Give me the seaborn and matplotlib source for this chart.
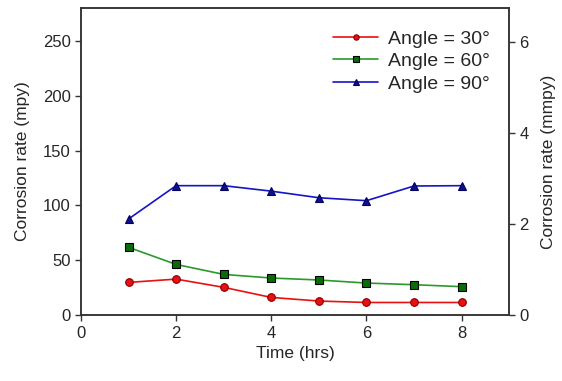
import numpy as np
import pandas as pd
import matplotlib
matplotlib.use("Agg")
import matplotlib.pyplot as plt
import seaborn as sns

# Measured corrosion rate (mpy) versus exposure time for three impingement angles
time_hrs = [1, 2, 3, 4, 5, 6, 7, 8]
rate_30 = [29.8, 32.8, 25.3, 16.1, 12.8, 11.5, 11.5, 11.5]
rate_60 = [61.8, 46.2, 37.1, 33.8, 32.0, 29.2, 27.7, 25.9]
rate_90 = [87.6, 118.0, 118.0, 113.0, 107.0, 104.3, 117.7, 118.0]
series_labels = ["Angle = 30°", "Angle = 60°", "Angle = 90°"]

df = pd.concat([
    pd.DataFrame({"Time": time_hrs, "Rate": vals, "Series": lab})
    for vals, lab in zip([rate_30, rate_60, rate_90], series_labels)
], ignore_index=True)

sns.set_theme(style="ticks")
plt.rcParams["font.family"] = ["Liberation Sans", "DejaVu Sans"]

fig = plt.figure(figsize=(5.62, 3.81), dpi=100)
ax = fig.add_axes([0.144, 0.173, 0.762, 0.806])

line_colors = {"Angle = 30°": "#e81010", "Angle = 60°": "#2a9a2a", "Angle = 90°": "#1414c8"}
face_colors = {"Angle = 30°": "#e81010", "Angle = 60°": "#0b6b0b", "Angle = 90°": "#10108c"}
edge_colors = {"Angle = 30°": "#8a0000", "Angle = 60°": "#000000", "Angle = 90°": "#000060"}
markers = {"Angle = 30°": "o", "Angle = 60°": "s", "Angle = 90°": "^"}

for lab in series_labels:
    sub = df[df["Series"] == lab]
    sns.lineplot(data=sub, x="Time", y="Rate", ax=ax, color=line_colors[lab],
                 marker=markers[lab], markersize=5.5, markerfacecolor=face_colors[lab],
                 markeredgecolor=edge_colors[lab], markeredgewidth=0.8,
                 linewidth=1.2, label=lab)

ax.set_xlim(0, 9)
ax.set_ylim(0, 280)
ax.set_xticks([0, 2, 4, 6, 8])
ax.set_yticks([0, 50, 100, 150, 200, 250])
ax.set_xlabel("Time (hrs)", fontsize=12.5)
ax.set_ylabel("Corrosion rate (mpy)", fontsize=12.5, labelpad=9)
ax.tick_params(labelsize=12, length=4, width=1, color="#333333", direction="out")

ax2 = ax.twinx()
ax2.set_ylim(0, 6.75)
ax2.set_yticks([0, 2, 4, 6])
ax2.set_ylabel("Corrosion rate (mmpy)", fontsize=12.5, labelpad=9)
ax2.tick_params(labelsize=12, length=4, width=1, color="#333333", direction="out")

for a in (ax, ax2):
    for s in a.spines.values():
        s.set_visible(True)
        s.set_color("#333333")
        s.set_linewidth(1.1)

ax.legend(loc="upper right", frameon=False, fontsize=14, handlelength=2.3,
          handletextpad=0.5, labelspacing=0.25, markerscale=0.7,
          bbox_to_anchor=(0.995, 0.985))

fig.savefig("out.png", dpi=100)
